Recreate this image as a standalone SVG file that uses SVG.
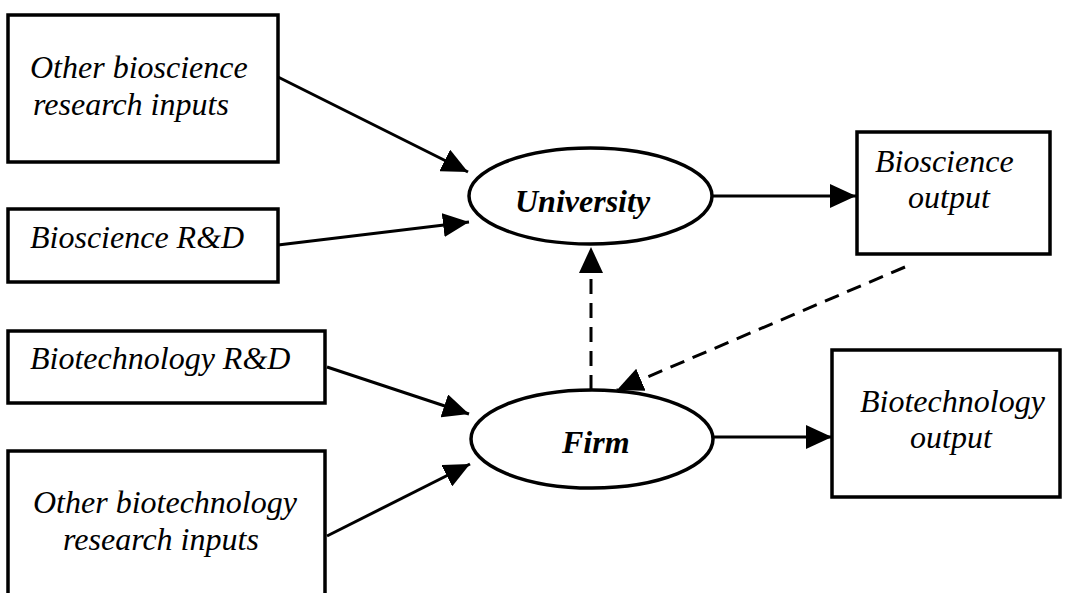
<svg xmlns="http://www.w3.org/2000/svg" width="1065" height="593" viewBox="0 0 1065 593">
<style>
.box{fill:#fff;stroke:#000;stroke-width:3.5}
.ell{fill:#fff;stroke:#000;stroke-width:3.5}
.t{font-family:"Liberation Serif","Times New Roman",serif;font-style:italic;font-size:32px;fill:#000}
.tb{font-family:"Liberation Serif","Times New Roman",serif;font-style:italic;font-weight:bold;font-size:32px;fill:#000}
.c{fill:none;stroke:#000;stroke-width:3}
.d{stroke-dasharray:15 9}
</style>
<defs>
<marker id="ah" markerUnits="userSpaceOnUse" markerWidth="26" markerHeight="24" refX="26" refY="12" orient="auto">
<path d="M0,0 L26,12 L0,24 Z" fill="#000"/>
</marker>
</defs>
<rect width="1065" height="593" fill="#fff"/>
<g id="connectors">
<path class="c" d="M278,77 L468,172" marker-end="url(#ah)"/>
<path class="c" d="M278,245 L469,222" marker-end="url(#ah)"/>
<path class="c" d="M327,367 L469,414" marker-end="url(#ah)"/>
<path class="c" d="M327,536 L470,464" marker-end="url(#ah)"/>
<path class="c" d="M712,196 L856,196" marker-end="url(#ah)"/>
<path class="c" d="M713,437 L832,437" marker-end="url(#ah)"/>
<path class="c d" d="M591,390 L591,247" marker-end="url(#ah)"/>
<path class="c d" d="M905,267 L617,390" marker-end="url(#ah)"/>
</g>
<g id="other-bioscience">
<rect class="box" x="8" y="15" width="270" height="147"/>
<text class="t" x="30" y="78">Other bioscience</text>
<text class="t" x="33" y="115">research inputs</text>
</g>
<g id="bioscience-rd">
<rect class="box" x="8" y="209" width="270" height="73"/>
<text class="t" x="30" y="248">Bioscience R&amp;D</text>
</g>
<g id="biotechnology-rd">
<rect class="box" x="8" y="331" width="317" height="72"/>
<text class="t" x="30" y="369">Biotechnology R&amp;D</text>
</g>
<g id="other-biotechnology">
<rect class="box" x="8" y="451" width="317" height="160"/>
<text class="t" x="33" y="513">Other biotechnology</text>
<text class="t" x="63" y="550">research inputs</text>
</g>
<g id="university">
<ellipse class="ell" cx="590.5" cy="196" rx="121.5" ry="48"/>
<text class="tb" x="515" y="212">University</text>
</g>
<g id="firm">
<ellipse class="ell" cx="592" cy="439" rx="121" ry="49"/>
<text class="tb" x="562" y="453">Firm</text>
</g>
<g id="bioscience-output">
<rect class="box" x="857" y="132" width="193" height="122"/>
<text class="t" x="875" y="172">Bioscience</text>
<text class="t" x="908" y="208">output</text>
</g>
<g id="biotechnology-output">
<rect class="box" x="832" y="350" width="228" height="147"/>
<text class="t" x="860" y="412">Biotechnology</text>
<text class="t" x="910" y="448">output</text>
</g>
</svg>
